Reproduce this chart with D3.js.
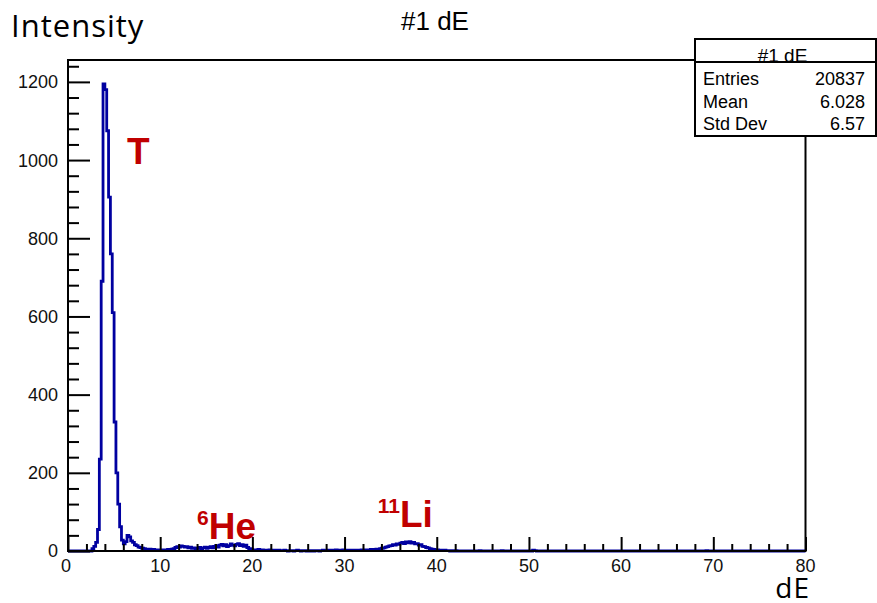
<!DOCTYPE html>
<html>
<head>
<meta charset="utf-8">
<script src="https://cdn.jsdelivr.net/npm/d3@7"></script>
<style>
  html, body { margin: 0; padding: 0; background: #fff; }
  svg { display: block; }
</style>
</head>
<body>
<svg id="chart" width="877" height="603"></svg>
<script>
// Histogram binning: 400 bins of width 0.2 over dE = 0..80
const binWidth = 0.2;
const xDomain = [0, 80];
const yMax = 1256;

// Counts per bin, listed by region (start value of the first bin given with each)
const tritonStart = 2.4;
const tritonCounts = [
  0, 6, 12, 22, 55, 235, 690, 1195, 1180, 1075,
  905, 760, 610, 330, 200, 120, 62, 28, 18, 24,
  40, 36, 26, 22, 16, 14, 10, 9, 7, 6,
  5, 4, 5, 3, 4, 3, 3, 2
];
const heliumStart = 10.0;
const heliumCounts = [
  3, 2, 3, 2, 4, 3, 5, 6, 9, 11,
  10, 13, 12, 10, 11, 8, 10, 7, 8, 6,
  7, 9, 6, 8, 10, 7, 9, 11, 8, 12,
  14, 10, 15, 17, 13, 16, 11, 14, 18, 15,
  13, 17, 19, 14, 16, 12, 15, 9, 6, 4
];
const gapStart = 20.0;
const gapCounts = [
  3, 2, 3, 4, 2, 3, 2, 1, 2, 3,
  2, 1, 2, 1, 2, 1, 1, 2, 1, 0,
  1, 1, 0, 1, 2, 1, 0, 1, 1, 0,
  1, 0, 1, 0, 1, 1, 0, 1, 2, 1,
  1, 2, 1, 2, 1, 3, 2, 1, 2, 3,
  2, 1, 2, 1, 2, 1, 2, 1, 2, 3,
  2, 3, 2, 3, 4, 3, 4, 5, 4, 6
];
const lithiumStart = 34.0;
const lithiumCounts = [
  7, 8, 10, 11, 13, 14, 16, 15, 18, 17,
  20, 22, 19, 23, 21, 24, 20, 22, 18, 19,
  15, 16, 12, 11, 9, 8, 6, 5, 4, 3
];
const tailStart = 40.0;
const tailCounts = [3, 2, 2, 1, 2, 1, 1, 0, 1, 0, 1];
const isolatedBins = [[44.6, 1], [47.0, 1], [50.4, 2], [50.6, 1], [69.2, 1]];

// Axis ticks
const yMajorTicks = [0, 200, 400, 600, 800, 1000, 1200];
const yMinorStep = 40;
const xMajorTicks = [0, 10, 20, 30, 40, 50, 60, 70, 80];
const xMinorStep = 2;

// Statistics box
const statsTitle = "#1 dE";
const statsNames = ["Entries", "Mean", "Std Dev"];
const statsValues = ["20837", "6.028", "6.57"];

// Particle labels: [base text, superscript, dE position, count position]
const particleLabels = [
  { sup: "", text: "T", x: 6.4, y: 990 },
  { sup: "6", text: "He", x: 14.0, y: 31 },
  { sup: "11", text: "Li", x: 33.6, y: 62 }
];

// ---- build the full bin array ----
const nBins = Math.round((xDomain[1] - xDomain[0]) / binWidth);
const counts = new Array(nBins).fill(0);
function place(start, arr) {
  const i0 = Math.round((start - xDomain[0]) / binWidth);
  arr.forEach((c, k) => { counts[i0 + k] = c; });
}
place(tritonStart, tritonCounts);
place(heliumStart, heliumCounts);
place(gapStart, gapCounts);
place(lithiumStart, lithiumCounts);
place(tailStart, tailCounts);
isolatedBins.forEach(([v, c]) => { counts[Math.round((v - xDomain[0]) / binWidth)] = c; });

const bins = counts.map((c, i) => ({ x0: xDomain[0] + i * binWidth, c }));

// ---- layout ----
const frame = { left: 68, right: 805.5, top: 60, bottom: 551 };
const x = d3.scaleLinear().domain(xDomain).range([frame.left, frame.right]);
const y = d3.scaleLinear().domain([0, yMax]).range([frame.bottom, frame.top]);

const svg = d3.select("#chart");
svg.append("rect").attr("width", 877).attr("height", 603).attr("fill", "#fff");

const axisFont = "'Liberation Sans', Arial, Helvetica, sans-serif";
const textFont = "'Open Sans', 'Noto Sans', sans-serif";

// histogram line (step)
const stepPts = bins.map(b => [b.x0, b.c]);
stepPts.push([xDomain[1], counts[counts.length - 1]]);
const line = d3.line()
  .x(d => x(d[0]))
  .y(d => y(d[1]))
  .curve(d3.curveStepAfter);
svg.append("path")
  .attr("d", line(stepPts))
  .attr("fill", "none")
  .attr("stroke", "#0000a0")
  .attr("stroke-width", 2.8)
  .attr("stroke-linejoin", "miter");

// frame
svg.append("rect")
  .attr("x", frame.left).attr("y", frame.top)
  .attr("width", frame.right - frame.left)
  .attr("height", frame.bottom - frame.top)
  .attr("fill", "none")
  .attr("stroke", "#000")
  .attr("stroke-width", 2);

// y axis: ticks pointing into the plot
const yAxis = d3.axisRight(y)
  .tickValues(yMajorTicks)
  .tickSize(22)
  .tickFormat("");
const yg = svg.append("g").attr("transform", `translate(${frame.left},0)`).call(yAxis);
yg.select(".domain").remove();
yg.selectAll("line").attr("stroke", "#000").attr("stroke-width", 2);

const yMinor = d3.range(0, yMax + 0.01, yMinorStep).filter(v => !yMajorTicks.includes(v));
const yMinorAxis = d3.axisRight(y).tickValues(yMinor).tickSize(11).tickFormat("");
const ymg = svg.append("g").attr("transform", `translate(${frame.left},0)`).call(yMinorAxis);
ymg.select(".domain").remove();
ymg.selectAll("line").attr("stroke", "#000").attr("stroke-width", 2);

svg.append("g").selectAll("text")
  .data(yMajorTicks)
  .join("text")
  .attr("x", 58)
  .attr("y", d => y(d))
  .attr("dy", "0.36em")
  .attr("text-anchor", "end")
  .attr("font-family", axisFont)
  .attr("font-size", 18)
  .attr("fill", "#111")
  .text(d => d);

// x axis: ticks pointing up
const xAxis = d3.axisTop(x)
  .tickValues(xMajorTicks)
  .tickSize(14)
  .tickFormat("");
const xg = svg.append("g").attr("transform", `translate(0,${frame.bottom})`).call(xAxis);
xg.select(".domain").remove();
xg.selectAll("line").attr("stroke", "#000").attr("stroke-width", 2);

const xMinor = d3.range(xDomain[0], xDomain[1] + 0.01, xMinorStep).filter(v => !xMajorTicks.includes(v));
const xMinorAxis = d3.axisTop(x).tickValues(xMinor).tickSize(7).tickFormat("");
const xmg = svg.append("g").attr("transform", `translate(0,${frame.bottom})`).call(xMinorAxis);
xmg.select(".domain").remove();
xmg.selectAll("line").attr("stroke", "#000").attr("stroke-width", 2);

svg.append("g").selectAll("text")
  .data(xMajorTicks)
  .join("text")
  .attr("x", d => x(d) - (d === 0 ? 2 : 0))
  .attr("y", frame.bottom + 21)
  .attr("text-anchor", "middle")
  .attr("font-family", axisFont)
  .attr("font-size", 18)
  .attr("fill", "#111")
  .text(d => d);

// titles
svg.append("text")
  .attr("x", 435).attr("y", 30)
  .attr("text-anchor", "middle")
  .attr("font-family", axisFont)
  .attr("font-size", 26)
  .attr("fill", "#000")
  .text("#1 dE");

svg.append("text")
  .attr("x", 11).attr("y", 37)
  .attr("font-family", textFont)
  .attr("font-size", 31)
  .attr("letter-spacing", 1)
  .attr("fill", "#000")
  .text("Intensity");

svg.append("text")
  .attr("x", 810).attr("y", 598)
  .attr("text-anchor", "end")
  .attr("font-family", textFont)
  .attr("font-size", 28)
  .attr("letter-spacing", 1)
  .attr("fill", "#000")
  .text("dE");

// statistics box
const box = { x: 695, y: 39, w: 181, h: 97, head: 23 };
const sb = svg.append("g");
sb.append("rect")
  .attr("x", box.x).attr("y", box.y)
  .attr("width", box.w).attr("height", box.h)
  .attr("fill", "#fff").attr("stroke", "#000").attr("stroke-width", 2);
sb.append("line")
  .attr("x1", box.x).attr("x2", box.x + box.w)
  .attr("y1", box.y + box.head).attr("y2", box.y + box.head)
  .attr("stroke", "#000").attr("stroke-width", 2);
sb.append("text")
  .attr("x", box.x + box.w / 2 - 3).attr("y", box.y + box.head)
  .attr("text-anchor", "middle")
  .attr("font-family", axisFont).attr("font-size", 19)
  .text(statsTitle);
statsNames.forEach((n, i) => {
  const by = box.y + box.head + 23 + i * 22.5;
  sb.append("text")
    .attr("x", box.x + 8).attr("y", by)
    .attr("font-family", axisFont).attr("font-size", 18)
    .text(n);
  sb.append("text")
    .attr("x", box.x + 170).attr("y", by)
    .attr("text-anchor", "end")
    .attr("font-family", axisFont).attr("font-size", 18)
    .text(statsValues[i]);
});

// particle labels
particleLabels.forEach(p => {
  const t = svg.append("text")
    .attr("x", x(p.x)).attr("y", y(p.y))
    .attr("font-family", axisFont)
    .attr("font-weight", "bold")
    .attr("fill", "#c00000");
  if (p.sup) {
    t.append("tspan")
      .attr("font-size", 21)
      .attr("dy", -14)
      .text(p.sup);
    t.append("tspan")
      .attr("font-size", 37)
      .attr("dy", 14)
      .text(p.text);
  } else {
    t.append("tspan").attr("font-size", 37).text(p.text);
  }
});
</script>
</body>
</html>
